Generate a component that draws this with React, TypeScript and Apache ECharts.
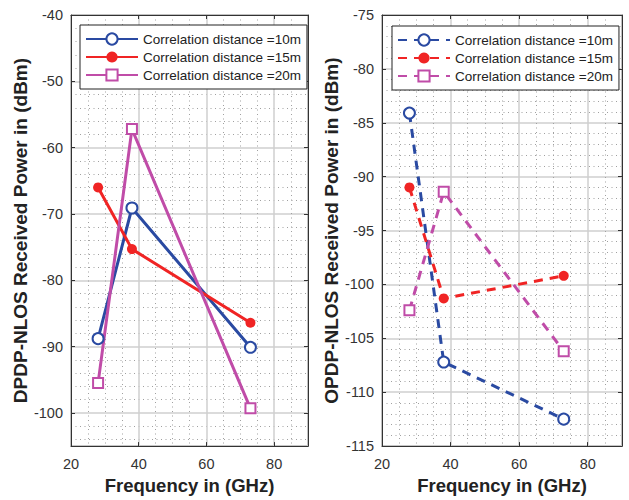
import React, { useEffect, useRef } from "react";
import * as echarts from "echarts";

const freqs = [28, 38, 73];
const seriesLabels = ["Correlation distance =10m", "Correlation distance =15m", "Correlation distance =20m"];
const dpdp10 = [-88.8, -69.1, -90.1];
const dpdp15 = [-66.0, -75.3, -86.4];
const dpdp20 = [-95.5, -57.2, -99.3];
const opdp10 = [-84.1, -107.2, -112.5];
const opdp15 = [-91.0, -101.3, -99.2];
const opdp20 = [-102.4, -91.4, -106.2];
const xTicks = [20, 40, 60, 80];

const BLUE = "#2a4aa2";
const RED = "#f02424";
const MAG = "#c04ca8";
const FONT = "Liberation Sans, Arial, sans-serif";

export default function App() {
  const ref = useRef<HTMLDivElement>(null);
  useEffect(() => {
    if (!ref.current) return;
    const chart = echarts.init(ref.current, null, { renderer: "svg" });
    const pair = (ys: number[]) => freqs.map((f, i) => [f, ys[i]]);
    const majorGrid = { show: true, lineStyle: { color: "#cfcfcf", width: 1.5 } };
    const minorGrid = { show: true, lineStyle: { color: "#a0a0a0", width: 1, type: [1, 3.5] as any } };
    const tickLabel = { color: "#333", fontSize: 14.5, fontFamily: FONT };
    const xNameStyle = { color: "#222", fontSize: 18.5, fontWeight: "bold" as const, fontFamily: FONT };
    const yNameStyle = { color: "#222", fontSize: 19, fontWeight: "bold" as const, fontFamily: FONT };

    const mkX = (gi: number) => ({
      type: "value", gridIndex: gi, min: 20, max: 90, interval: 20,
      axisLine: { show: true, lineStyle: { color: "#333", width: 1 } },
      axisTick: { show: true, inside: true, length: 4, lineStyle: { color: "#333" } },
      axisLabel: { ...tickLabel, margin: 10, formatter: (v: number) => (xTicks.includes(v) ? String(v) : "") },
      splitLine: majorGrid,
      minorTick: { show: false, splitNumber: 4 },
      minorSplitLine: minorGrid,
      name: "Frequency in (GHz)", nameLocation: "middle", nameGap: 25, nameTextStyle: xNameStyle,
    });
    const mkXTop = (gi: number) => ({
      type: "value", gridIndex: gi, min: 20, max: 90, interval: 20, position: "top",
      axisLine: { show: true, lineStyle: { color: "#333", width: 1 } },
      axisTick: { show: true, inside: true, length: 4, lineStyle: { color: "#333" } },
      axisLabel: { show: false }, splitLine: { show: false },
    });

    const opt: any = {
      animation: false,
      backgroundColor: "#fff",
      grid: [
        { left: 71, top: 15, width: 237, height: 434, show: true, borderColor: "#333", borderWidth: 1, backgroundColor: "#fff" },
        { left: 382, top: 15, width: 240, height: 434, show: true, borderColor: "#333", borderWidth: 1, backgroundColor: "#fff" },
      ],
      xAxis: [mkX(0), mkX(1), mkXTop(0), mkXTop(1)],
      yAxis: [
        {
          type: "value", gridIndex: 0, min: -105, max: -40, splitNumber: 6,
          axisLine: { show: true, lineStyle: { color: "#333" } },
          axisTick: { show: true, inside: true, length: 4, lineStyle: { color: "#333" } },
          axisLabel: { ...tickLabel, margin: 8, formatter: (v: number) => (v % 10 === 0 ? String(v) : "") },
          splitLine: majorGrid,
          minorTick: { show: false, splitNumber: 5 },
          minorSplitLine: minorGrid,
          name: "DPDP-NLOS Received Power in (dBm)", nameLocation: "middle", nameGap: 40, nameTextStyle: yNameStyle,
        },
        {
          type: "value", gridIndex: 1, min: -115, max: -75, interval: 5,
          axisLine: { show: true, lineStyle: { color: "#333" } },
          axisTick: { show: true, inside: true, length: 4, lineStyle: { color: "#333" } },
          axisLabel: { ...tickLabel, margin: 8 },
          splitLine: majorGrid,
          minorTick: { show: false, splitNumber: 5 },
          minorSplitLine: minorGrid,
          name: "OPDP-NLOS Received Power in (dBm)", nameLocation: "middle", nameGap: 40, nameTextStyle: yNameStyle,
        },
        {
          type: "value", gridIndex: 0, min: -105, max: -40, splitNumber: 6, position: "right",
          axisLine: { show: true, lineStyle: { color: "#333" } },
          axisTick: { show: true, inside: true, length: 4, lineStyle: { color: "#333" } },
          axisLabel: { show: false }, splitLine: { show: false },
        },
        {
          type: "value", gridIndex: 1, min: -115, max: -75, interval: 5, position: "right",
          axisLine: { show: true, lineStyle: { color: "#333" } },
          axisTick: { show: true, inside: true, length: 4, lineStyle: { color: "#333" } },
          axisLabel: { show: false }, splitLine: { show: false },
        },
      ],
      legend: [
        {
          data: ["L10", "L15", "L20"], left: 80, top: 25, orient: "vertical",
          padding: [7, 6, 7, 5], itemWidth: 52, itemHeight: 14, itemGap: 4,
          backgroundColor: "#fff", borderColor: "#222", borderWidth: 1,
          textStyle: { fontSize: 13.5, color: "#222", fontFamily: FONT },
          formatter: (n: string) => seriesLabels[["L10", "L15", "L20"].indexOf(n)],
          selectedMode: false,
        },
        {
          data: ["R10", "R15", "R20"], left: 392, top: 26, orient: "vertical",
          padding: [7, 6, 7, 5], itemWidth: 52, itemHeight: 14, itemGap: 4,
          backgroundColor: "#fff", borderColor: "#222", borderWidth: 1,
          textStyle: { fontSize: 13.5, color: "#222", fontFamily: FONT },
          formatter: (n: string) => seriesLabels[["R10", "R15", "R20"].indexOf(n)],
          selectedMode: false,
        },
      ],
      series: [
        { name: "L10", type: "line", xAxisIndex: 0, yAxisIndex: 0, data: pair(dpdp10), color: BLUE, symbol: "emptyCircle", symbolSize: 11, lineStyle: { width: 3 }, itemStyle: { borderWidth: 2.5 } },
        { name: "L15", type: "line", xAxisIndex: 0, yAxisIndex: 0, data: pair(dpdp15), color: RED, symbol: "circle", symbolSize: 10, lineStyle: { width: 3 } },
        { name: "L20", type: "line", xAxisIndex: 0, yAxisIndex: 0, data: pair(dpdp20), color: MAG, symbol: "emptyRect", symbolSize: 10, lineStyle: { width: 3 }, itemStyle: { borderWidth: 2 } },
        { name: "R10", type: "line", xAxisIndex: 1, yAxisIndex: 1, data: pair(opdp10), color: BLUE, symbol: "emptyCircle", symbolSize: 11, lineStyle: { width: 3, type: [9, 7] }, itemStyle: { borderWidth: 2.5 } },
        { name: "R15", type: "line", xAxisIndex: 1, yAxisIndex: 1, data: pair(opdp15), color: RED, symbol: "circle", symbolSize: 10, lineStyle: { width: 3, type: [9, 7] } },
        { name: "R20", type: "line", xAxisIndex: 1, yAxisIndex: 1, data: pair(opdp20), color: MAG, symbol: "emptyRect", symbolSize: 10, lineStyle: { width: 3, type: [9, 7] }, itemStyle: { borderWidth: 2 } },
      ],
    };
    chart.setOption(opt);
    return () => chart.dispose();
  }, []);
  return <div ref={ref} style={{ width: 629, height: 500, position: "absolute", left: 0, top: 0 }} />;
}
